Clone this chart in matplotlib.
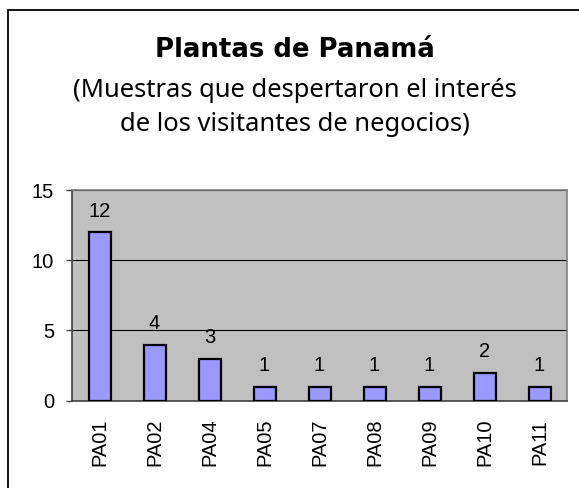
import matplotlib
matplotlib.use("Agg")
from matplotlib import pyplot as plt
from matplotlib.patches import Rectangle
import numpy as np

plantas = ['PA01', 'PA02', 'PA04', 'PA05', 'PA07', 'PA08', 'PA09', 'PA10', 'PA11']
muestras = [12, 4, 3, 1, 1, 1, 1, 2, 1]
y_ticks = [0, 5, 10, 15]

fig = plt.figure(figsize=(5.79, 4.88), dpi=100)
ax = fig.add_axes([72 / 579, 1 - 400.7 / 488, 495 / 579, 210.7 / 488])

# marco exterior del grafico
fig.patches.append(Rectangle((8 / 579, -0.1), 1.2, 1.1 - 10 / 488,
                             transform=fig.transFigure, fill=False,
                             edgecolor='black', linewidth=1.3))

index = np.arange(len(plantas))
ax.set_facecolor('#c0c0c0')
ax.bar(index, muestras, 0.4, color='#9999ff', edgecolor='black',
       linewidth=1.6, zorder=3)

for i, v in zip(index, muestras):
    ax.annotate(str(v), (i, v), xytext=(0, 11), textcoords='offset points',
                ha='center', va='baseline', fontsize=14.5,
                family='Liberation Sans')

ax.set_ylim(0, 15)
ax.set_xlim(-0.5, len(plantas) - 0.5)
ax.set_yticks(y_ticks)
ax.set_xticks(index)
ax.set_xticklabels(plantas, rotation=90, fontsize=14.5, family='Liberation Sans')
for lbl in ax.get_yticklabels():
    lbl.set_family('Liberation Sans')
    lbl.set_fontsize(14.5)
ax.tick_params(axis='x', length=0, pad=13)
ax.tick_params(axis='y', length=4, width=1, pad=9, color='#404040')
ax.yaxis.grid(True, color='black', linewidth=0.8, zorder=1)
ax.set_axisbelow(True)

ax.spines['left'].set_color('#404040')
ax.spines['bottom'].set_color('#404040')
ax.spines['top'].set_color('#808080')
ax.spines['right'].set_color('#808080')
for s in ax.spines.values():
    s.set_linewidth(1.2)

cx = 295 / 579
fig.text(cx, 1 - 57 / 488, 'Plantas de Panamá', ha='center', va='baseline',
         fontsize=18.7, fontweight='bold', family='DejaVu Sans')
fig.text(cx, 1 - 97 / 488, '(Muestras que despertaron el interés',
         ha='center', va='baseline', fontsize=18.4, family='Noto Sans')
fig.text(cx, 1 - 131 / 488, 'de los visitantes de negocios)',
         ha='center', va='baseline', fontsize=18.4, family='Noto Sans')

plt.savefig('out.png', dpi=100)
plt.close()
